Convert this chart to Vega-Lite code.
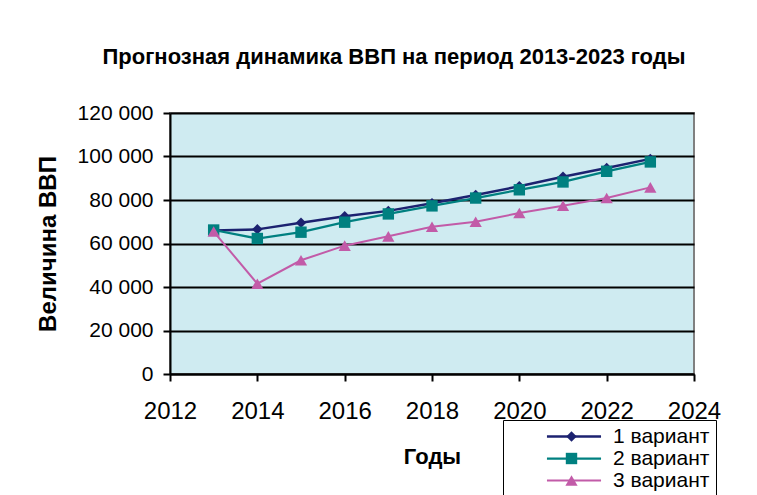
{
  "$schema": "https://vega.github.io/schema/vega-lite/v6.json",
  "width": 524,
  "height": 261,
  "autosize": {"type": "none"},
  "padding": {"left": 170, "top": 113, "right": 63, "bottom": 121},
  "background": "white",
  "title": {
    "text": "Прогнозная динамика ВВП на период 2013-2023 годы",
    "font": "Liberation Sans",
    "fontSize": 22,
    "fontWeight": "bold",
    "color": "black",
    "anchor": "middle",
    "dx": -38,
    "offset": 33
  },
  "config": {
    "font": "Liberation Sans",
    "view": {"fill": "#CFEBF1", "stroke": "#808080", "strokeWidth": 2},
    "axis": {
      "domainColor": "black",
      "domainWidth": 2,
      "tickColor": "black",
      "tickWidth": 2,
      "tickSize": 7,
      "labelColor": "black",
      "titleColor": "black",
      "labelFont": "Liberation Sans",
      "titleFont": "Liberation Sans"
    }
  },
  "data": {
    "values": [
      {"year": 2013, "value": 66000, "series": "1 вариант"},
      {"year": 2014, "value": 66500, "series": "1 вариант"},
      {"year": 2015, "value": 69500, "series": "1 вариант"},
      {"year": 2016, "value": 72500, "series": "1 вариант"},
      {"year": 2017, "value": 75000, "series": "1 вариант"},
      {"year": 2018, "value": 78500, "series": "1 вариант"},
      {"year": 2019, "value": 82300, "series": "1 вариант"},
      {"year": 2020, "value": 86300, "series": "1 вариант"},
      {"year": 2021, "value": 90700, "series": "1 вариант"},
      {"year": 2022, "value": 94700, "series": "1 вариант"},
      {"year": 2023, "value": 98900, "series": "1 вариант"},
      {"year": 2013, "value": 66200, "series": "2 вариант"},
      {"year": 2014, "value": 62300, "series": "2 вариант"},
      {"year": 2015, "value": 65200, "series": "2 вариант"},
      {"year": 2016, "value": 69800, "series": "2 вариант"},
      {"year": 2017, "value": 73600, "series": "2 вариант"},
      {"year": 2018, "value": 77300, "series": "2 вариант"},
      {"year": 2019, "value": 80900, "series": "2 вариант"},
      {"year": 2020, "value": 84700, "series": "2 вариант"},
      {"year": 2021, "value": 88300, "series": "2 вариант"},
      {"year": 2022, "value": 93200, "series": "2 вариант"},
      {"year": 2023, "value": 97500, "series": "2 вариант"},
      {"year": 2013, "value": 65500, "series": "3 вариант"},
      {"year": 2014, "value": 41500, "series": "3 вариант"},
      {"year": 2015, "value": 52300, "series": "3 вариант"},
      {"year": 2016, "value": 59000, "series": "3 вариант"},
      {"year": 2017, "value": 63300, "series": "3 вариант"},
      {"year": 2018, "value": 67700, "series": "3 вариант"},
      {"year": 2019, "value": 70000, "series": "3 вариант"},
      {"year": 2020, "value": 74000, "series": "3 вариант"},
      {"year": 2021, "value": 77400, "series": "3 вариант"},
      {"year": 2022, "value": 80900, "series": "3 вариант"},
      {"year": 2023, "value": 85800, "series": "3 вариант"}
    ]
  },
  "encoding": {
    "x": {
      "field": "year",
      "type": "quantitative",
      "scale": {"domain": [2012, 2024], "nice": false, "zero": false},
      "axis": {
        "title": "Годы",
        "titleFontSize": 22,
        "titleFontWeight": "bold",
        "titlePadding": 23,
        "values": [2012, 2014, 2016, 2018, 2020, 2022, 2024],
        "format": "d",
        "labelFontSize": 24,
        "labelPadding": 18,
        "grid": false,
        "labelFlush": false,
        "labelOverlap": false
      }
    },
    "y": {
      "field": "value",
      "type": "quantitative",
      "scale": {"domain": [0, 120000], "nice": false},
      "axis": {
        "title": "Величина ВВП",
        "titleFontSize": 24,
        "titleFontWeight": "bold",
        "titlePadding": 17,
        "values": [0, 20000, 40000, 60000, 80000, 100000, 120000],
        "labelExpr": "replace(format(datum.value, ','), /,/g, ' ')",
        "labelFontSize": 21,
        "labelPadding": 10,
        "grid": true,
        "gridColor": "black",
        "gridWidth": 2,
        "gridOpacity": 1
      }
    }
  },
  "layer": [
    {
      "mark": {"type": "line"},
      "encoding": {
        "stroke": {
          "field": "series",
          "type": "nominal",
          "scale": {"range": ["#1C2270", "#008080", "#C25BA8"]},
          "legend": {
            "title": null,
            "orient": "none",
            "legendX": 333,
            "legendY": 307,
            "strokeColor": "black",
            "padding": 6,
            "symbolType": "M-5,0L5,0",
            "symbolSize": 117,
            "symbolOffset": 54.5,
            "symbolStrokeWidth": 2,
            "labelOffset": 28.5,
            "labelFontSize": 21,
            "labelColor": "black",
            "labelFont": "Liberation Sans",
            "rowPadding": 0,
            "labelExpr": "datum.label + '\u00a0\u00a0\u00a0\u00a0\u00a0'"
          }
        },
        "strokeWidth": {
          "field": "series",
          "type": "ordinal",
          "scale": {"range": [2.5, 2, 1.5]}
        }
      }
    },
    {
      "mark": {"type": "point", "filled": true, "opacity": 1},
      "encoding": {
        "fill": {
          "field": "series",
          "type": "nominal",
          "scale": {
            "domain": ["1 вариант", "2 вариант", "3 вариант"],
            "range": ["#1C2270", "#008080", "#C25BA8"]
          },
          "legend": {
            "title": null,
            "orient": "none",
            "legendX": 333,
            "legendY": 307,
            "padding": 6,
            "symbolOffset": 52,
            "symbolStrokeWidth": 0,
            "labelOffset": 6,
            "labelFontSize": 21,
            "labelColor": "transparent",
            "labelFont": "Liberation Sans",
            "rowPadding": 0
          }
        },
        "shape": {
          "field": "series",
          "type": "nominal",
          "scale": {"domain": ["1 вариант", "2 вариант", "3 вариант"], "range": ["diamond", "square", "triangle-up"]}
        },
        "size": {
          "field": "series",
          "type": "ordinal",
          "scale": {"domain": ["1 вариант", "2 вариант", "3 вариант"], "range": [110, 150, 180]}
        }
      }
    }
  ]
}
